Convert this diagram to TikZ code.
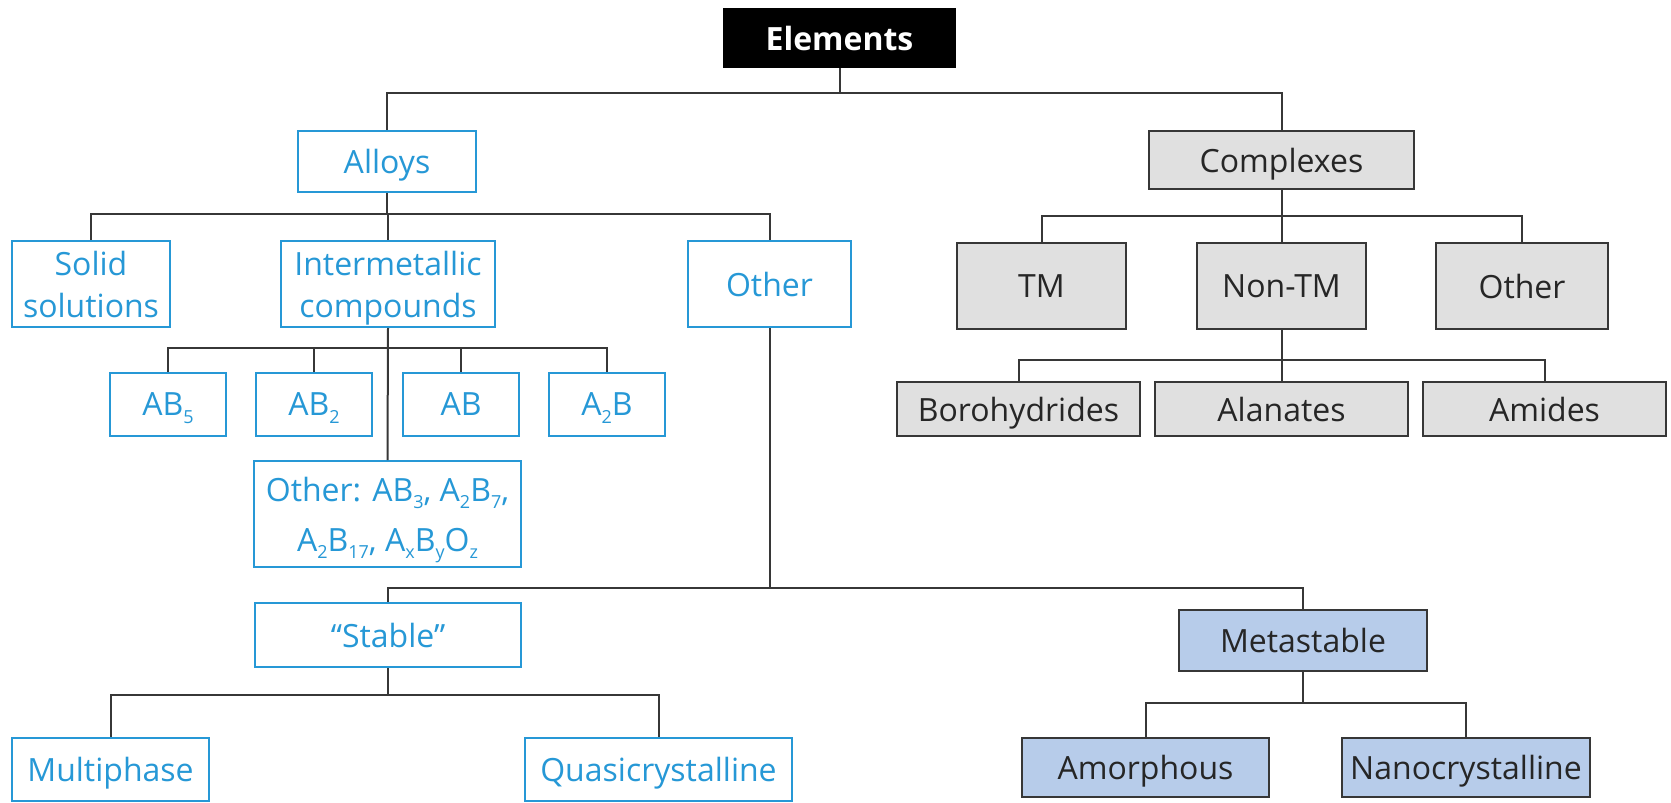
\documentclass[tikz,border=0pt]{standalone}
\usepackage{fontspec}
\setmainfont{Open Sans}
\definecolor{bl}{RGB}{38,152,214}
\definecolor{dg}{RGB}{55,55,55}
\definecolor{gr}{RGB}{224,224,224}
\definecolor{mb}{RGB}{183,204,234}
\newcommand\sbs[1]{\raisebox{-0.45ex}{\fontsize{9}{9}\selectfont #1}}
\newcommand\bx[7]{\node[#2, minimum width={(#5-#3-2)*0.5pt}, minimum height={(#6-#4-2)*0.5pt}] (#1) at ({(#3+#5)/2},{(#4+#6)/2}) {#7};}
\tikzset{
  box/.style={draw, line width=1pt, inner sep=0pt, align=center, text depth=0pt},
  bluebox/.style={box, draw=bl, text=bl, fill=white},
  graybox/.style={box, draw=dg, fill=gr, text=black!85},
  metabox/.style={box, draw=dg, fill=mb, text=black!85},
  topbox/.style={box, draw=black, fill=black, text=white, font=\fontsize{16}{20}\selectfont\bfseries},
  conn/.style={draw=dg, line width=1pt}
}
\begin{document}
\begin{tikzpicture}[x=0.5pt,y=-0.5pt,font=\fontsize{16}{21}\selectfont]
\useasboundingbox (0,0) rectangle (1671,803);
% bus levels
\coordinate (busTop) at (0,93);
\coordinate (busAl) at (0,214);
\coordinate (busCx) at (0,216);
\coordinate (busIM) at (0,348);
\coordinate (busNT) at (0,360);
\coordinate (busOt) at (0,588);
\coordinate (busSt) at (0,695);
\coordinate (busMs) at (0,703);
% nodes
\bx{elements}{topbox}{723}{8}{956}{68}{Elements}
\bx{alloys}{bluebox}{297}{130}{477}{193}{Alloys}
\bx{complexes}{graybox}{1148}{130}{1415}{190}{Complexes}
\bx{solid}{bluebox}{11}{240}{171}{328}{Solid\\solutions}
\bx{inter}{bluebox}{280}{240}{496}{328}{Intermetallic\\compounds}
\bx{otherA}{bluebox}{687}{240}{852}{328}{Other}
\bx{tm}{graybox}{956}{242}{1127}{330}{TM}
\bx{nontm}{graybox}{1196}{242}{1367}{330}{Non-TM}
\bx{otherC}{graybox}{1435}{242}{1609}{330}{Other}
\bx{ab5}{bluebox}{109}{372}{227}{437}{AB\sbs{5}}
\bx{ab2}{bluebox}{255}{372}{373}{437}{AB\sbs{2}}
\bx{ab}{bluebox}{402}{372}{520}{437}{AB}
\bx{a2b}{bluebox}{548}{372}{666}{437}{A\sbs{2}B}
\bx{boro}{graybox}{896}{381}{1141}{437}{Borohydrides}
\bx{alan}{graybox}{1154}{381}{1409}{437}{Alanates}
\bx{amid}{graybox}{1422}{381}{1667}{437}{Amides}
\bx{otherIM}{bluebox,font=\fontsize{16}{25}\selectfont}{253}{460}{522}{568}{Other: AB\sbs{3}, A\sbs{2}B\sbs{7},\\A\sbs{2}B\sbs{17}, A\sbs{x}B\sbs{y}O\sbs{z}}
\bx{stable}{bluebox}{254}{602}{522}{668}{“Stable”}
\bx{meta}{metabox}{1178}{609}{1428}{672}{Metastable}
\bx{multi}{bluebox}{11}{737}{210}{802}{Multiphase}
\bx{quasi}{bluebox}{524}{737}{793}{802}{Quasicrystalline}
\bx{amor}{metabox}{1021}{737}{1270}{798}{Amorphous}
\bx{nano}{metabox}{1341}{737}{1591}{798}{Nanocrystalline}
% connectors
\foreach \c in {alloys,complexes}{\draw[conn] (elements.south) |- (\c.north |- busTop) -- (\c.north);}
\foreach \c in {solid,inter,otherA}{\draw[conn] (alloys.south) |- (\c.north |- busAl) -- (\c.north);}
\foreach \c in {tm,nontm,otherC}{\draw[conn] (complexes.south) |- (\c.north |- busCx) -- (\c.north);}
\foreach \c in {ab5,ab2,ab,a2b}{\draw[conn] (inter.south) |- (\c.north |- busIM) -- (\c.north);}
\draw[conn] (inter.south) -- (otherIM.north);
\foreach \c in {boro,alan,amid}{\draw[conn] (nontm.south) |- (\c.north |- busNT) -- (\c.north);}
\foreach \c in {stable,meta}{\draw[conn] (otherA.south) |- (\c.north |- busOt) -- (\c.north);}
\foreach \c in {multi,quasi}{\draw[conn] (stable.south) |- (\c.north |- busSt) -- (\c.north);}
\foreach \c in {amor,nano}{\draw[conn] (meta.south) |- (\c.north |- busMs) -- (\c.north);}
\end{tikzpicture}
\end{document}
